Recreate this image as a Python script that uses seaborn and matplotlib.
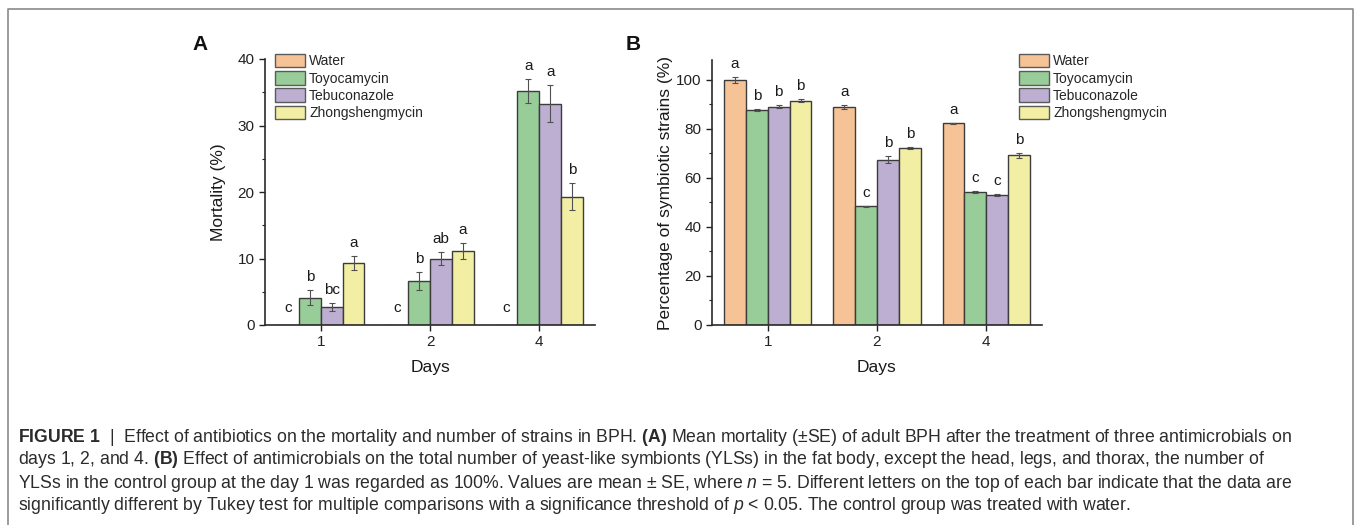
import matplotlib
matplotlib.use("Agg")
import matplotlib.pyplot as plt
from matplotlib.ticker import MultipleLocator
from matplotlib.lines import Line2D
import seaborn as sns
import pandas as pd

# data
days = ["1", "2", "4"]
treatments = ["Water", "Toyocamycin", "Tebuconazole", "Zhongshengmycin"]
colors = ["#F5C396", "#98CC98", "#BDAFD2", "#F2EFA4"]

# panel A: mortality (%)
mort_water = [0, 0, 0]
mort_toyo = [4.1, 6.6, 35.2]
mort_tebu = [2.7, 10.0, 33.3]
mort_zhong = [9.3, 11.2, 19.3]
mort_err_water = [0, 0, 0]
mort_err_toyo = [1.1, 1.3, 1.8]
mort_err_tebu = [0.6, 1.0, 2.8]
mort_err_zhong = [1.1, 1.2, 2.0]
mort_let_water = ["c", "c", "c"]
mort_let_toyo = ["b", "b", "a"]
mort_let_tebu = ["bc", "ab", "a"]
mort_let_zhong = ["a", "a", "b"]

# panel B: percentage of symbiotic strains (%)
sym_water = [100.0, 88.9, 82.2]
sym_toyo = [87.6, 48.4, 54.4]
sym_tebu = [89.0, 67.4, 52.8]
sym_zhong = [91.4, 72.3, 69.2]
sym_err_water = [1.2, 0.8, 0.2]
sym_err_toyo = [0.3, 0.2, 0.4]
sym_err_tebu = [0.5, 1.5, 0.4]
sym_err_zhong = [0.6, 0.4, 1.0]
sym_let_water = ["a", "a", "a"]
sym_let_toyo = ["b", "c", "c"]
sym_let_tebu = ["b", "b", "c"]
sym_let_zhong = ["b", "b", "b"]

caption_lines = [
    r"$\mathbf{FIGURE\ 1}$  |  Effect of antibiotics on the mortality and number of strains in BPH. $\mathbf{(A)}$ Mean mortality (±SE) of adult BPH after the treatment of three antimicrobials on",
    r"days 1, 2, and 4. $\mathbf{(B)}$ Effect of antimicrobials on the total number of yeast-like symbionts (YLSs) in the fat body, except the head, legs, and thorax, the number of",
    r"YLSs in the control group at the day 1 was regarded as 100%. Values are mean ± SE, where $\mathit{n}$ = 5. Different letters on the top of each bar indicate that the data are",
    r"significantly different by Tukey test for multiple comparisons with a significance threshold of $\mathit{p}$ < 0.05. The control group was treated with water.",
]

sns.set_theme(style="ticks")
plt.rcParams["font.family"] = ["Liberation Sans", "DejaVu Sans"]
plt.rcParams["mathtext.fontset"] = "custom"
plt.rcParams["mathtext.rm"] = "Liberation Sans"
plt.rcParams["mathtext.bf"] = "Liberation Sans:bold"
plt.rcParams["mathtext.it"] = "Liberation Sans:italic"

W, H = 1356, 525
fig = plt.figure(figsize=(W / 100, H / 100), dpi=100)
axA = fig.add_axes([265 / W, 1 - 325 / H, 330 / W, 266 / H])
axB = fig.add_axes([712 / W, 1 - 325 / H, 330 / W, 265 / H])


def make_df(vals):
    rows = []
    for t, v in zip(treatments, vals):
        for d, y in zip(days, v):
            rows.append({"day": d, "treatment": t, "value": y})
    return pd.DataFrame(rows)


def draw_panel(ax, vals, errs, letters, ylabel, ymax, major, minor, leg_xy, letter_xy, panel):
    df = make_df(vals)
    sns.barplot(data=df, x="day", y="value", hue="treatment", order=days,
                hue_order=treatments, palette=colors, saturation=1, width=0.8,
                errorbar=None, edgecolor="#3c3c3c", linewidth=1, ax=ax)
    for cont, e_list, l_list in zip(ax.containers, errs, letters):
        for bar, e, lab in zip(cont, e_list, l_list):
            x = bar.get_x() + bar.get_width() / 2
            h = bar.get_height()
            if e > 0:
                ax.errorbar(x, h, yerr=e, fmt="none", ecolor="#505050",
                            elinewidth=0.8, capsize=2.5, capthick=0.8)
            # letters over empty bars sit a little higher
            dy = 6.5 if h > 0 else 9
            ax.annotate(lab, (x, h + e), xytext=(0, dy), textcoords="offset points",
                        ha="center", va="baseline", fontsize=11, color="#1a1a1a")

    handles, labels = ax.get_legend_handles_labels()
    for hd in handles:
        hd.set_edgecolor("#5a5a5a")
        hd.set_linewidth(1)
    ax.legend(handles, labels, loc="upper left", bbox_to_anchor=leg_xy,
              bbox_transform=fig.transFigure, frameon=False, fontsize=10,
              handlelength=2.15, handleheight=1.1, labelspacing=0.2,
              handletextpad=0.3, borderpad=0, borderaxespad=0)

    ax.set_xlim(-0.51, 2.51)
    ax.set_ylim(0, ymax)
    ax.yaxis.set_major_locator(MultipleLocator(major))
    ax.yaxis.set_minor_locator(MultipleLocator(minor))
    ax.tick_params(axis="both", which="major", direction="out", length=4,
                   width=1, labelsize=11, colors="#222222")
    ax.tick_params(axis="y", which="minor", direction="out", length=2.5, width=0.8,
                   colors="#222222")
    sns.despine(ax=ax)
    for s in ["left", "bottom"]:
        ax.spines[s].set_linewidth(1.2)
        ax.spines[s].set_color("#2a2a2a")
    ax.set_xlabel("Days", fontsize=12.5, color="#1a1a1a")
    ax.set_ylabel(ylabel, fontsize=12.5, color="#1a1a1a")
    ax.xaxis.set_label_coords(0.5, -0.133)
    ax.yaxis.set_label_coords(-0.118, 0.5)
    fig.text(letter_xy[0] / W, 1 - letter_xy[1] / H, panel, ha="center", va="center",
             fontsize=15, fontweight="bold", color="#111111")


draw_panel(axA,
           [mort_water, mort_toyo, mort_tebu, mort_zhong],
           [mort_err_water, mort_err_toyo, mort_err_tebu, mort_err_zhong],
           [mort_let_water, mort_let_toyo, mort_let_tebu, mort_let_zhong],
           "Mortality (%)", 40, 10, 5, (275 / W, 1 - 54 / H), (200, 44), "A")
draw_panel(axB,
           [sym_water, sym_toyo, sym_tebu, sym_zhong],
           [sym_err_water, sym_err_toyo, sym_err_tebu, sym_err_zhong],
           [sym_let_water, sym_let_toyo, sym_let_tebu, sym_let_zhong],
           "Percentage of symbiotic strains (%)", 108, 20, 10, (1019 / W, 1 - 54 / H),
           (633, 44), "B")

# caption
for i, line in enumerate(caption_lines):
    fig.text(18 / W, 1 - (437 + 23 * i) / H, line, ha="left", va="center",
             fontsize=12.7, color="#2b2b2b")

# outer frame, open at the bottom
fig.add_artist(Line2D([8 / W, 8 / W, 1353 / W, 1353 / W], [0, 1 - 9 / H, 1 - 9 / H, 0],
                      transform=fig.transFigure, color="#8a8a8a", linewidth=1.2))

fig.savefig("out.png", dpi=100)
